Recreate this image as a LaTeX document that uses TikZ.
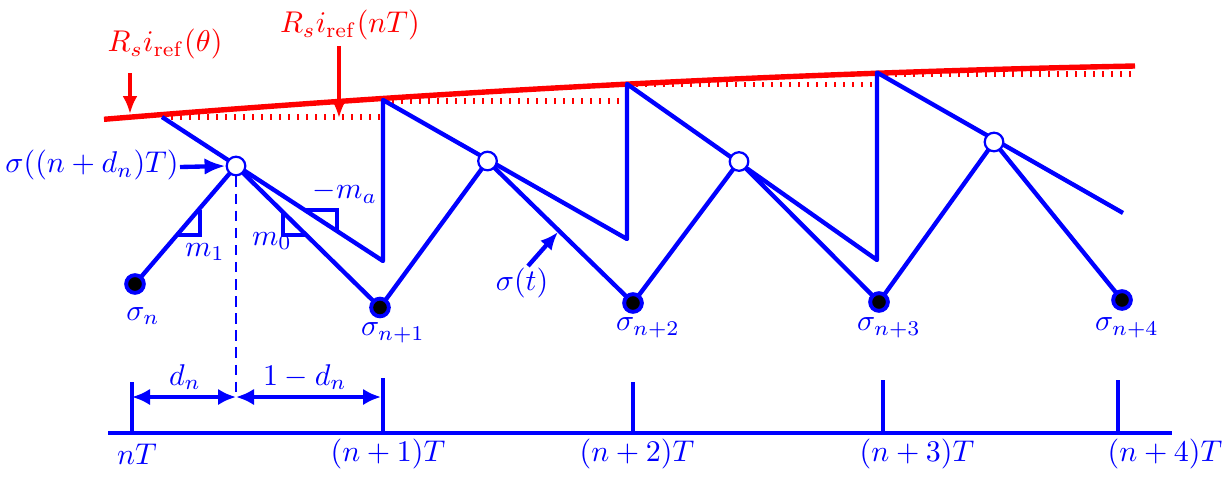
\documentclass[tikz,border=0pt]{standalone}
\usetikzlibrary{arrows.meta,backgrounds}
\begin{document}
\begin{tikzpicture}[x=0.33333pt,y=-0.33333pt,
  bl/.style={draw=blue,line width=1.45pt,line join=round},
  rl/.style={draw=red,line width=1.8pt},
  rdot/.style={draw=red,line width=1.7pt,dash pattern=on 0.7pt off 2.3pt},
  opencirc/.style={circle,draw=blue,fill=white,line width=0.75pt,inner sep=0pt,minimum size=6.2pt},
  sample/.style={circle,draw=blue,fill=black,line width=1.3pt,inner sep=0pt,minimum size=5.9pt},
  btxt/.style={text=blue,inner sep=0pt},
  rtxt/.style={text=red,inner sep=0pt},
  barr/.style={draw=blue,line width=1.45pt,-{Latex[length=7pt,width=5.5pt]}},
  sarr/.style={draw=blue,line width=1.45pt,-{Latex[length=6pt,width=5pt]}},
  darr/.style={draw=blue,line width=1.45pt,{Latex[length=6pt,width=5.5pt]}-{Latex[length=6pt,width=5.5pt]}},
  rarr/.style={draw=red,line width=1.45pt,-{Latex[length=6pt,width=5pt]}},
  tri/.style={draw=blue,line width=1.2pt}
]
\useasboundingbox (0,0) rectangle (1226,480);

% sample points and interpolated points
\node[sample] (s0) at (135,284) {};
\node[sample] (s1) at (380,307.5) {};
\node[sample] (s2) at (633,303) {};
\node[sample] (s3) at (879,302) {};
\node[sample] (s4) at (1122,300) {};
\node[opencirc] (c0) at (236,166) {};
\node[opencirc] (c1) at (487.5,161) {};
\node[opencirc] (c2) at (739,161.5) {};
\node[opencirc] (c3) at (994,142) {};

% sawtooth corners
\coordinate (p0) at (162,117);
\coordinate (b0) at (383,261);
\coordinate (t1) at (383,100);
\coordinate (b1) at (627,239);
\coordinate (t2) at (627,84);
\coordinate (b2) at (877,260);
\coordinate (t3) at (877,72.5);
\coordinate (e3) at (1123,213);

\begin{scope}[on background layer]
  % reference curve
  \draw[rl] (104,119.3) .. controls (447.7,90.7) and (791.3,72.9) .. (1135,66);
  \draw[rdot] (162,117) -- (383,117);
  \draw[rdot] (383,101) -- (627,101);
  \draw[rdot] (627,84.5) -- (877,84.5);
  \draw[rdot] (877,74) -- (1135,74);
  % sawtooth
  \draw[bl] (p0) -- (b0) -- (t1) -- (b1) -- (t2) -- (b2) -- (t3) -- (e3);
  % sigma(t) piecewise
  \draw[bl] (s0.center) -- (c0.center) -- (s1.center) -- (c1.center) -- (s2.center)
     -- (c2.center) -- (s3.center) -- (c3.center) -- (s4.center);
\end{scope}

% slope triangles
\draw[tri] (178,235) -- (200,235) -- (200,210);
\draw[tri] (283,212) -- (283,235) -- (305,235);
\draw[tri] (305,210) -- (337,210) -- (337,230);
\node[btxt] (m1) at (205,252) {$m_1$};
\node[btxt] (m0) at (272,241) {$m_0$};
\node[btxt] (ma) at (345,192) {$-m_a$};

% sample labels
\node[btxt] (ls0) at (143,316) {$\sigma_n$};
\node[btxt] (ls1) at (393,333) {$\sigma_{n+1}$};
\node[btxt] (ls2) at (648,328) {$\sigma_{n+2}$};
\node[btxt] (ls3) at (889,328) {$\sigma_{n+3}$};
\node[btxt] (ls4) at (1127,328) {$\sigma_{n+4}$};

% sigma((n+d_n)T)
\node[btxt] (lc) at (92,165) {$\sigma((n+d_n)T)$};
\coordinate (lca) at (180,167);
\draw[barr] (lca) -- (c0.west);

% sigma(t)
\node[btxt] (lst) at (522,283) {$\sigma(t)$};
\coordinate (sta) at (528,266);
\coordinate (stb) at (558,232);
\draw[sarr] (sta) -- (stb);

% red labels
\node[rtxt] (lrt) at (165,44) {$R_s i_{\mathrm{ref}}(\theta)$};
\node[rtxt] (lrn) at (350,25) {$R_s i_{\mathrm{ref}}(nT)$};
\coordinate (ra1) at (130,73);
\coordinate (ra2) at (130,114);
\coordinate (rb1) at (339,46);
\coordinate (rb2) at (339,118);
\draw[rarr] (ra1) -- (ra2);
\draw[rarr] (rb1) -- (rb2);

% time axis
\coordinate (ax0) at (108,433);
\coordinate (ax1) at (1172,433);
\draw[bl] (ax0) -- (ax1);
\coordinate (k0) at (132,433); \coordinate (k0t) at (132,382);
\coordinate (k1) at (383,433); \coordinate (k1t) at (383,378);
\coordinate (k2) at (633,433); \coordinate (k2t) at (633,382);
\coordinate (k3) at (883,433); \coordinate (k3t) at (883,380);
\coordinate (k4) at (1118,433); \coordinate (k4t) at (1118,380);
\draw[bl] (k0) -- (k0t);
\draw[bl] (k1) -- (k1t);
\draw[bl] (k2) -- (k2t);
\draw[bl] (k3) -- (k3t);
\draw[bl] (k4) -- (k4t);
\node[btxt] (t0) at (137,454) {$nT$};
\node[btxt] (t1l) at (388,454) {$(n+1)T$};
\node[btxt] (t2l) at (637,454) {$(n+2)T$};
\node[btxt] (t3l) at (917,454) {$(n+3)T$};
\node[btxt] (t4l) at (1165,454) {$(n+4)T$};

% duty arrows
\coordinate (dq) at (236,397);
\coordinate (dl) at (132,397);
\coordinate (dr) at (381,397);
\draw[draw=blue,line width=0.8pt,dash pattern=on 3.5pt off 2.2pt] (c0.south) -- (dq);
\draw[darr] (dl) -- (dq);
\draw[darr] (dq) -- (dr);
\node[btxt] (ldn) at (185,377) {$d_n$};
\node[btxt] (l1dn) at (305,377) {$1-d_n$};
\end{tikzpicture}
\end{document}
